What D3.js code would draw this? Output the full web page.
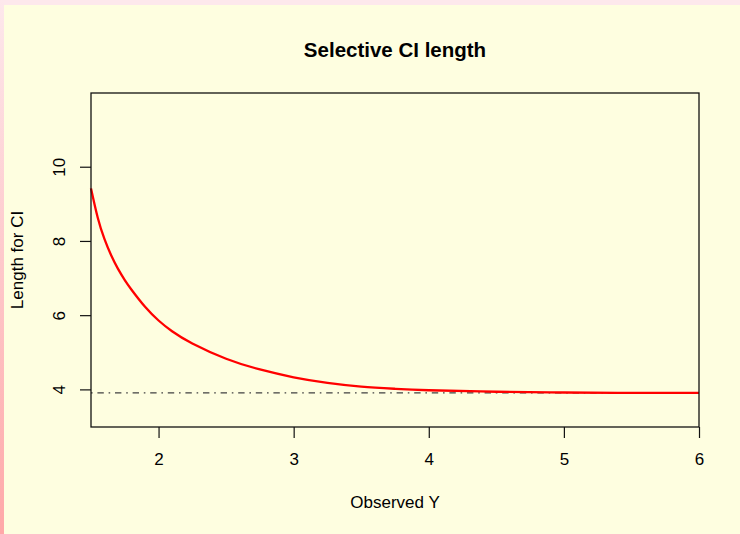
<!DOCTYPE html>
<html>
<head>
<meta charset="utf-8">
<script src="https://cdn.jsdelivr.net/npm/d3@7"></script>
<style>
  html, body { margin: 0; padding: 0; background: #fefee0; }
  svg { display: block; }
  text { font-family: "Liberation Sans", Arial, sans-serif; fill: #000; }
</style>
</head>
<body>
<svg id="chart" width="740" height="534"></svg>
<script>
// Observed value of Y and the length of the selective confidence interval
const observedY = [1.5, 1.55, 1.6, 1.65, 1.7, 1.75, 1.8, 1.9, 2.0, 2.1, 2.25, 2.5, 2.75, 3.0, 3.25, 3.5, 3.75, 4.0, 4.5, 5.0, 5.5, 6.0];
const ciLength  = [9.43, 8.64, 8.06, 7.62, 7.26, 6.96, 6.70, 6.24, 5.87, 5.58, 5.25, 4.84, 4.55, 4.34, 4.19, 4.09, 4.03, 3.99, 3.95, 3.93, 3.92, 3.92];
// Length of the ordinary (non-selective) interval, 2 * 1.96
const naiveLength = 3.92;

const xTicks = [2, 3, 4, 5, 6];
const yTicks = [4, 6, 8, 10];

const titleText = "Selective CI length";
const xLabel = "Observed Y";
const yLabel = "Length for CI";

const svg = d3.select("#chart");
const W = 740, H = 534;
const plot = { left: 91, right: 699, top: 93, bottom: 427 };

// Page background with the pink edge strips
const defs = svg.append("defs");
const grad = defs.append("linearGradient").attr("id", "edge")
  .attr("x1", 0).attr("y1", 0).attr("x2", 0).attr("y2", 1);
grad.append("stop").attr("offset", "0%").attr("stop-color", "#fde8ec");
grad.append("stop").attr("offset", "100%").attr("stop-color", "#ffa8a8");

svg.append("rect").attr("width", W).attr("height", H).attr("fill", "#fefee0");
svg.append("rect").attr("x", 0).attr("y", 0).attr("width", W).attr("height", 5).attr("fill", "#fde8ec");
svg.append("rect").attr("x", 0).attr("y", 0).attr("width", 4).attr("height", H).attr("fill", "url(#edge)");

const x = d3.scaleLinear().domain([1.5, 6]).range([plot.left, plot.right]);
const y = d3.scaleLinear().domain([3, 12]).range([plot.bottom, plot.top]);

// Reference line for the naive interval length
svg.append("line")
  .attr("x1", x(1.5)).attr("x2", x(6))
  .attr("y1", y(naiveLength)).attr("y2", y(naiveLength))
  .attr("stroke", "#404040").attr("stroke-width", 1.3)
  .attr("stroke-dasharray", "1.6,4.8,6.4,4.8");

// Selective CI length curve
const line = d3.line()
  .x((d, i) => x(observedY[i]))
  .y(d => y(d))
  .curve(d3.curveNatural);

svg.append("path")
  .datum(ciLength)
  .attr("d", line)
  .attr("fill", "none")
  .attr("stroke", "#ff0000")
  .attr("stroke-width", 2.3);

// Plot frame
svg.append("rect")
  .attr("x", plot.left).attr("y", plot.top)
  .attr("width", plot.right - plot.left).attr("height", plot.bottom - plot.top)
  .attr("fill", "none").attr("stroke", "#111").attr("stroke-width", 1.3);

// Bottom axis
const xAxis = d3.axisBottom(x).tickValues(xTicks).tickSize(11).tickPadding(15)
  .tickFormat(d3.format("d"));
const gx = svg.append("g").attr("transform", `translate(0,${plot.bottom})`).call(xAxis);
gx.select(".domain").remove();
gx.selectAll(".tick line").attr("stroke", "#111").attr("stroke-width", 1.2);
gx.selectAll(".tick text").attr("font-size", 17)
  .attr("font-family", "Liberation Sans, Arial, sans-serif").attr("fill", "#111");

// Left axis with rotated labels
const gy = svg.append("g");
gy.selectAll("line").data(yTicks).join("line")
  .attr("x1", plot.left - 11).attr("x2", plot.left)
  .attr("y1", d => y(d)).attr("y2", d => y(d))
  .attr("stroke", "#111").attr("stroke-width", 1.2);
gy.selectAll("text").data(yTicks).join("text")
  .attr("transform", d => `translate(65,${y(d)}) rotate(-90)`)
  .attr("text-anchor", "middle")
  .attr("font-size", 17)
  .text(d => d);

// Titles
svg.append("text")
  .attr("x", (plot.left + plot.right) / 2).attr("y", 57.3)
  .attr("text-anchor", "middle")
  .attr("font-size", 20.5).attr("font-weight", "bold")
  .text(titleText);

svg.append("text")
  .attr("x", (plot.left + plot.right) / 2).attr("y", 508.3)
  .attr("text-anchor", "middle")
  .attr("font-size", 17)
  .text(xLabel);

svg.append("text")
  .attr("transform", `translate(22.5,${(plot.top + plot.bottom) / 2}) rotate(-90)`)
  .attr("text-anchor", "middle")
  .attr("font-size", 17)
  .text(yLabel);
</script>
</body>
</html>
